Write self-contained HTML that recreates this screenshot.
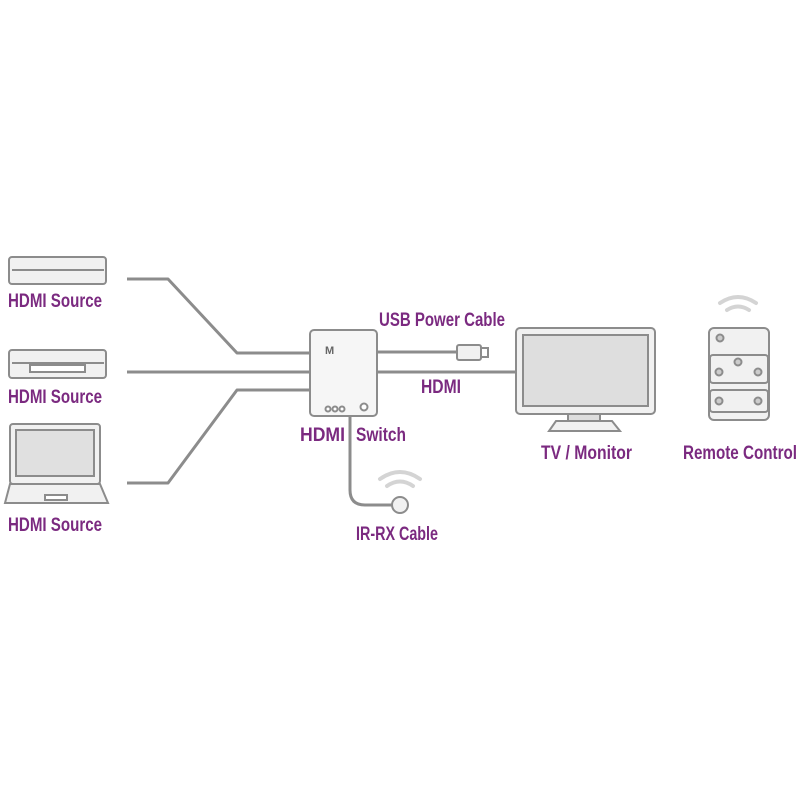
<!DOCTYPE html><html><head><style>body{margin:0;background:#fff}svg{display:block}text{font-family:"Liberation Sans",sans-serif;font-weight:bold;fill:#7b2a80;font-size:19px}</style></head><body>
<svg width="800" height="800" viewBox="0 0 800 800" xmlns="http://www.w3.org/2000/svg">
<g fill="none" stroke="#8c8c8c" stroke-width="3" stroke-linejoin="round">
<path d="M127 279H168L237 353H310"/><path d="M127 372H310"/><path d="M127 483H168L237 390H310"/>
<path d="M377 352H456"/><path d="M377 372H516"/>
<path d="M350 416V490Q350 505 365 505H392"/>
</g>
<g fill="#f1f1f1" stroke="#8c8c8c" stroke-width="2">
<rect x="9" y="257" width="97" height="27" rx="3"/><path d="M12 270H104" fill="none"/>
<rect x="9" y="350" width="97" height="28" rx="3"/><path d="M12 363H104" fill="none"/><rect x="30" y="365" width="55" height="7" fill="#fff"/>
<rect x="10" y="424" width="90" height="60" rx="3"/><rect x="16" y="430" width="78" height="46" fill="#e0e0e0"/>
<path d="M10 484L5 503H108L100 484Z"/><rect x="45" y="495" width="22" height="5" fill="#fff"/>
<rect x="310" y="330" width="67" height="86" rx="4" fill="#f6f6f6"/>
<circle cx="328" cy="409" r="2.5" fill="#fff"/><circle cx="335" cy="409" r="2.5" fill="#fff"/><circle cx="342" cy="409" r="2.5" fill="#fff"/><circle cx="364" cy="407" r="3.5" fill="#fff"/>
<circle cx="400" cy="505" r="8"/>
<rect x="457" y="345" width="24" height="15" rx="2"/><rect x="481" y="348" width="7" height="9" fill="#fff"/>
<rect x="516" y="328" width="139" height="86" rx="4"/><rect x="523" y="335" width="125" height="71" fill="#dedede"/>
<rect x="568" y="414" width="32" height="7" fill="#ddd"/><path d="M556 421H612L620 431H549Z"/>
<rect x="709" y="328" width="60" height="92" rx="5"/>
<rect x="710" y="355" width="58" height="28" rx="3"/><rect x="710" y="390" width="58" height="22" rx="3"/>
<circle cx="720" cy="338" r="3.5" fill="#ccc"/><circle cx="738" cy="362" r="3.5" fill="#ccc"/><circle cx="719" cy="372" r="3.5" fill="#ccc"/><circle cx="758" cy="372" r="3.5" fill="#ccc"/><circle cx="719" cy="401" r="3.5" fill="#ccc"/><circle cx="758" cy="401" r="3.5" fill="#ccc"/>
</g>
<g fill="none" stroke="#d4d4d4" stroke-width="4" stroke-linecap="round">
<path d="M387 486Q400 477 413 486"/><path d="M380 479Q400 465 420 479"/>
<path d="M727 310Q738 303 749 310"/><path d="M720 303Q738 291 756 303"/>
</g>
<text x="325" y="354" style="font-size:11px;fill:#666">M</text>
<g lengthAdjust="spacingAndGlyphs">
<text x="8" y="307" textLength="94" lengthAdjust="spacingAndGlyphs">HDMI Source</text>
<text x="8" y="403" textLength="94" lengthAdjust="spacingAndGlyphs">HDMI Source</text>
<text x="8" y="531" textLength="94" lengthAdjust="spacingAndGlyphs">HDMI Source</text>
<text x="379" y="326" textLength="126" lengthAdjust="spacingAndGlyphs">USB Power Cable</text>
<text x="421" y="393" textLength="40" lengthAdjust="spacingAndGlyphs">HDMI</text>
<text x="300" y="441" textLength="45" lengthAdjust="spacingAndGlyphs">HDMI</text>
<text x="356" y="441" textLength="50" lengthAdjust="spacingAndGlyphs">Switch</text>
<text x="356" y="540" textLength="82" lengthAdjust="spacingAndGlyphs">IR-RX Cable</text>
<text x="541" y="459" textLength="91" lengthAdjust="spacingAndGlyphs">TV / Monitor</text>
<text x="683" y="459" textLength="114" lengthAdjust="spacingAndGlyphs">Remote Control</text>
</g>
</svg></body></html>
